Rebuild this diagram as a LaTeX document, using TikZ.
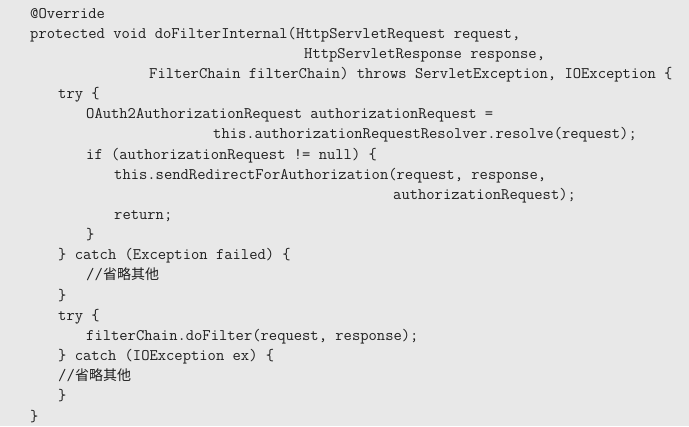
\documentclass[tikz,border=0pt]{standalone}
\usepackage{fontspec}
\newfontfamily\cjk{Noto Sans CJK SC}
\definecolor{codebg}{RGB}{232,232,232}
\definecolor{codefg}{RGB}{30,30,30}
\tikzset{
    codeline/.style={anchor=base west, inner sep=0pt, text=codefg,
      font=\fontsize{16.13bp}{20bp}\selectfont\ttfamily},
    cjktext/.style={font=\fontsize{14bp}{20bp}\selectfont\cjk},
  }

\begin{document}
\begin{tikzpicture}[x=1bp,y=-1bp]
				  %fond gris
				  \fill[codebg] (0,0) rectangle (689,426);
				  \useasboundingbox (0,0) rectangle (689,426);
				  %lignes du code, base a 18 + 20.15*(n-1)
				  \node[codeline] (l1) at (30,18) {@Override};
				  \node[codeline] (l2) at (30,38.15) {protected void doFilterInternal(HttpServletRequest request,};
				  \node[codeline] (l3) at (304,58.3) {HttpServletResponse response,};
				  \node[codeline] (l4) at (149,78.45) {FilterChain filterChain) throws ServletException, IOException \{};
				  \node[codeline] (l5) at (58,98.6) {try \{};
				  \node[codeline] (l6) at (86,118.75) {OAuth2AuthorizationRequest authorizationRequest =};
				  \node[codeline] (l7) at (213,138.9) {this.authorizationRequestResolver.resolve(request);};
				  \node[codeline] (l8) at (86,159.05) {if (authorizationRequest != null) \{};
				  \node[codeline] (l9) at (114,179.2) {this.sendRedirectForAuthorization(request, response,};
				  \node[codeline] (l10) at (393,199.35) {authorizationRequest);};
				  \node[codeline] (l11) at (114,219.5) {return;};
				  \node[codeline] (l12) at (86,239.65) {\}};
				  \node[codeline] (l13) at (58,259.8) {\} catch (Exception failed) \{};
				  \node[codeline] (l14) at (86,279.95) {//};
				  \node[codeline, cjktext] (c14) at (l14.base east) {省略其他};
				  \node[codeline] (l15) at (58,300.1) {\}};
				  \node[codeline] (l16) at (58,320.25) {try \{};
				  \node[codeline] (l17) at (86,340.4) {filterChain.doFilter(request, response);};
				  \node[codeline] (l18) at (58,360.55) {\} catch (IOException ex) \{};
				  \node[codeline] (l19) at (58,380.7) {//};
				  \node[codeline, cjktext] (c19) at (l19.base east) {省略其他};
				  \node[codeline] (l20) at (58,400.85) {\}};
				  \node[codeline] (l21) at (30,421) {\}};
				  \end{tikzpicture}
\end{document}
